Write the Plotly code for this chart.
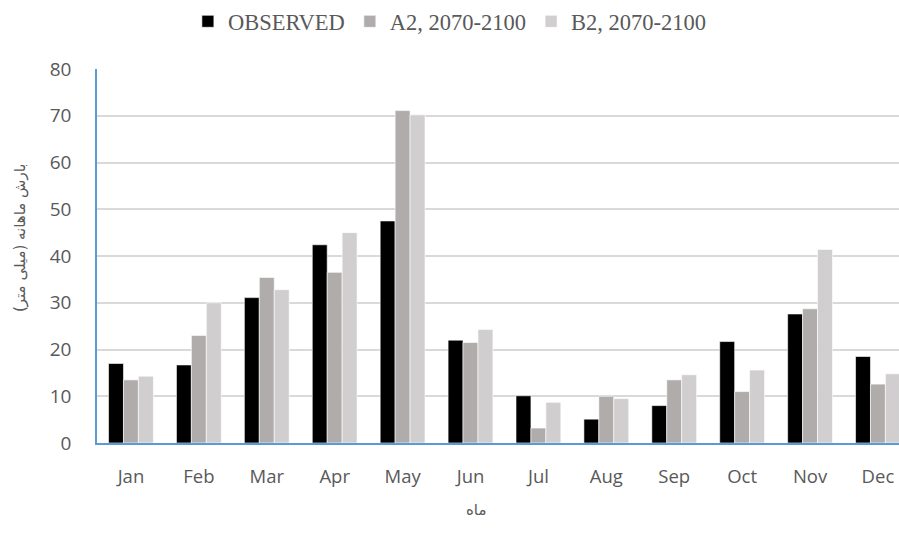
import plotly.graph_objects as go

months = ["Jan", "Feb", "Mar", "Apr", "May", "Jun", "Jul", "Aug", "Sep", "Oct", "Nov", "Dec"]
observed = [17.0, 16.7, 31.1, 42.4, 47.5, 22.0, 10.1, 5.1, 8.0, 21.7, 27.6, 18.5]
a2 = [13.5, 23.0, 35.4, 36.5, 71.1, 21.5, 3.2, 10.0, 13.5, 11.0, 28.7, 12.6]
b2 = [14.3, 30.0, 32.8, 45.0, 70.2, 24.3, 8.7, 9.5, 14.6, 15.6, 41.4, 14.8]
series_names = ["OBSERVED", "A2, 2070-2100", "B2, 2070-2100"]
colors = ["#000000", "#AFACAB", "#D0CECF"]
y_ticks = [0, 10, 20, 30, 40, 50, 60, 70, 80]
x_title = "ماه"
y_title = "بارش ماهانه (میلی متر)"

fig = go.Figure()
for name, vals, col in zip(series_names, [observed, a2, b2], colors):
    fig.add_trace(go.Bar(
        x=months, y=vals, name=name,
        marker=dict(color=col, line=dict(color="#FFFFFF", width=0.6)),
    ))

title_font = dict(family="DejaVu Sans", size=15, color="#595959")
fig.update_layout(
    width=899, height=542,
    margin=dict(l=97, r=0, t=69, b=99),
    paper_bgcolor="white", plot_bgcolor="white",
    barmode="group", bargap=0.34, bargroupgap=0,
    showlegend=True,
    legend=dict(
        orientation="h", x=0.44, xanchor="center", y=1.184, yanchor="top",
        font=dict(family="Liberation Serif", size=22.5, color="#595959"),
        itemwidth=30, traceorder="normal",
    ),
    xaxis=dict(
        range=[-0.5, 11.31], automargin=False,
        showline=True, linecolor="#5B9BD5", linewidth=1.5,
        showgrid=False, ticks="",
        tickfont=dict(family="Open Sans", size=18.5, color="#595959"),
        ticklabelstandoff=16,
    ),
    yaxis=dict(
        range=[0, 80], tickvals=y_ticks, automargin=False,
        showline=True, linecolor="#5B9BD5", linewidth=1.5,
        showgrid=True, gridcolor="#D9D9D9", gridwidth=1.5,
        zeroline=False, ticks="",
        tickfont=dict(family="Open Sans", size=19, color="#595959"),
        ticklabelstandoff=20,
    ),
    annotations=[
        dict(text=x_title, xref="paper", yref="paper", x=0.4726, y=-0.179,
             xanchor="center", yanchor="middle", showarrow=False, font=title_font),
        dict(text=y_title, xref="paper", yref="paper", x=-0.096, y=0.548,
             xanchor="center", yanchor="middle", textangle=-90, showarrow=False, font=title_font),
    ],
)

fig.write_html(
    "out.html",
    config={"displayModeBar": False},
    post_script="document.body.style.margin='0';document.body.style.overflow='hidden';",
)
